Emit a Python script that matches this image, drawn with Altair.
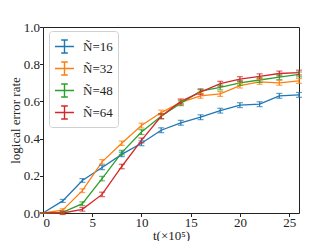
import altair as alt
import pandas as pd

t = [0, 2, 4, 6, 8, 10, 12, 14, 16, 18, 20, 22, 24, 26]
series = ["Ñ=16", "Ñ=32", "Ñ=48", "Ñ=64"]
n16 = [0.0, 0.065, 0.175, 0.245, 0.315, 0.375, 0.445, 0.485, 0.515, 0.55, 0.58, 0.585, 0.63, 0.635]
n32 = [0.0, 0.015, 0.12, 0.275, 0.375, 0.47, 0.54, 0.595, 0.63, 0.64, 0.685, 0.705, 0.70, 0.71]
n48 = [0.0, 0.003, 0.05, 0.185, 0.325, 0.435, 0.52, 0.59, 0.655, 0.675, 0.70, 0.715, 0.73, 0.745]
n64 = [0.0, 0.0, 0.02, 0.10, 0.25, 0.39, 0.52, 0.60, 0.65, 0.695, 0.72, 0.735, 0.75, 0.755]
err = [0.0, 0.008, 0.01, 0.012, 0.012, 0.013, 0.013, 0.013, 0.013, 0.013, 0.013, 0.013, 0.013, 0.013]
y_ticks = [0.0, 0.2, 0.4, 0.6, 0.8, 1.0]
x_ticks = [0, 5, 10, 15, 20, 25]
colors = ["#1f77b4", "#ff7f0e", "#2ca02c", "#d62728"]

rows = []
for name, vals in zip(series, [n16, n32, n48, n64]):
    for x, v, e in zip(t, vals, err):
        rows.append({"t": x, "rate": v, "lo": v - e, "hi": v + e, "series": name})
df = pd.DataFrame(rows)

FONT = "Liberation Serif"

cscale = alt.Scale(domain=series, range=colors)
xscale = alt.Scale(domain=[0, 26], nice=False)
yscale = alt.Scale(domain=[0, 1], nice=False)
xaxis = alt.Axis(values=x_ticks, title="t(×10⁵)", format="d",
                 labelFont=FONT, labelFontSize=13, titleFont=FONT, titleFontSize=13,
                 titleY=29, titleBaseline="bottom", labelPadding=0)
yaxis = alt.Axis(values=y_ticks, format=".1f", title="logical error rate",
                 labelFont=FONT, labelFontSize=13, titleFont=FONT, titleFontSize=13,
                 titleX=-21, titleY=93, titleAngle=270, titleBaseline="bottom",
                 labelPadding=0)

legend = alt.Legend(title=None, orient="none", legendX=6, legendY=4,
                    symbolType="M-1,0H1M0,-0.68V0.68M-0.35,-0.68H0.35M-0.35,0.68H0.35",
                    symbolSize=361, symbolStrokeWidth=1.4,
                    labelFont=FONT, labelFontSize=13, labelColor="#222",
                    rowPadding=2, padding=5, cornerRadius=3,
                    strokeColor="#d0d0d0", fillColor="white",
                    labelOffset=8)

base = alt.Chart(df)
line = base.mark_line(strokeWidth=1.3).encode(
    x=alt.X("t:Q", scale=xscale, axis=xaxis),
    y=alt.Y("rate:Q", scale=yscale, axis=yaxis),
    color=alt.Color("series:N", scale=cscale, legend=legend),
)
bars = base.mark_rule(strokeWidth=1.2).encode(
    x=alt.X("t:Q", scale=xscale, axis=xaxis),
    y=alt.Y("lo:Q", scale=yscale, axis=yaxis), y2="hi:Q",
    color=alt.Color("series:N", legend=None, scale=cscale))
caps_lo = base.mark_tick(orient="horizontal", size=6, thickness=1.2).encode(
    x=alt.X("t:Q", scale=xscale, axis=xaxis),
    y=alt.Y("lo:Q", scale=yscale, axis=yaxis),
    color=alt.Color("series:N", legend=None, scale=cscale))
caps_hi = base.mark_tick(orient="horizontal", size=6, thickness=1.2).encode(
    x=alt.X("t:Q", scale=xscale, axis=xaxis),
    y=alt.Y("hi:Q", scale=yscale, axis=yaxis),
    color=alt.Color("series:N", legend=None, scale=cscale))

chart = alt.layer(line, bars, caps_lo, caps_hi).properties(
    width=256, height=186,
    autosize=alt.AutoSizeParams(type="none"),
    padding={"left": 35, "top": 19, "right": 25, "bottom": 28},
).configure_view(stroke="#222", strokeWidth=1).configure_axis(
    grid=False, labelColor="#222", titleFontWeight="normal", titleColor="#222",
    tickColor="#222", tickSize=3.5, domain=False, labelOverlap=False,
)

chart.save("out.html", embed_options={"renderer": "svg", "actions": False})
